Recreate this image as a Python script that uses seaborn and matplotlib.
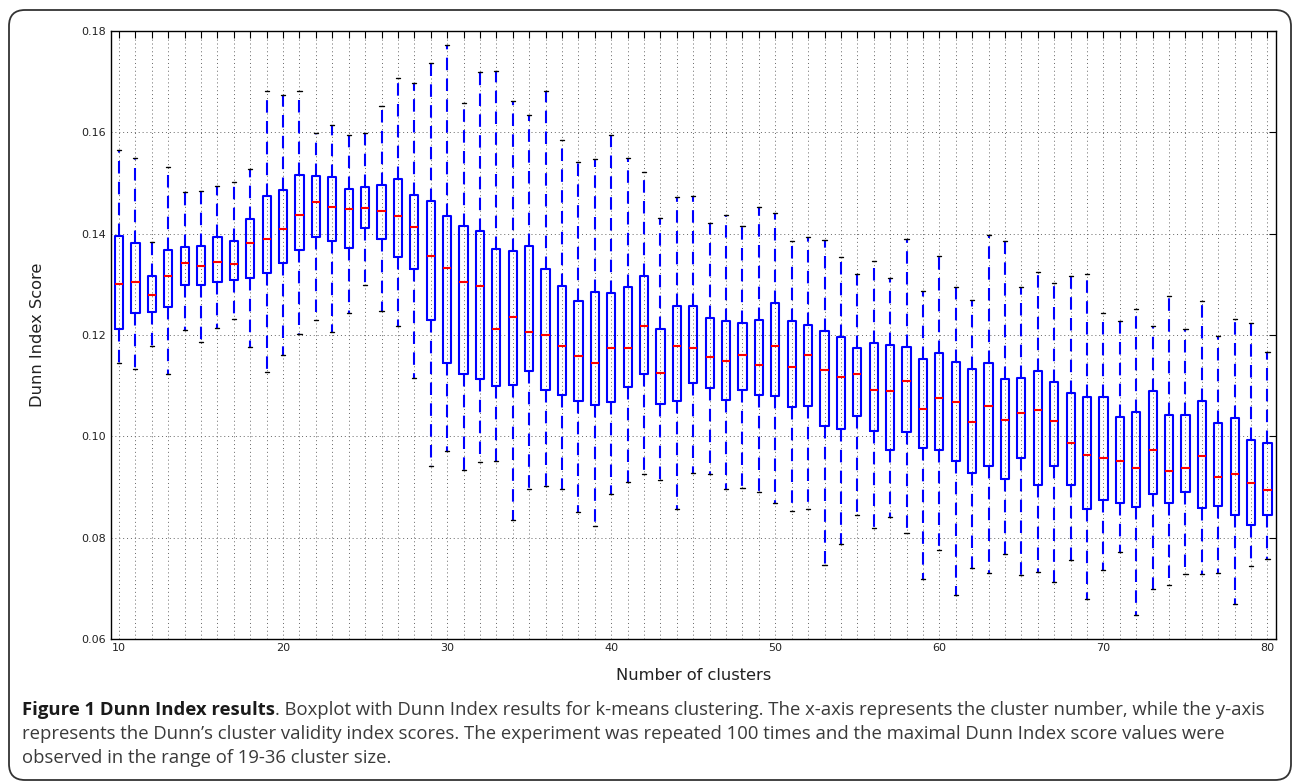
import numpy as np
import pandas as pd
import matplotlib
matplotlib.use("Agg")
import matplotlib.pyplot as plt
import matplotlib.patches as mpatches
import matplotlib.transforms as mtransforms
import seaborn as sns

# ---------------- data ----------------
clusters = list(range(10, 81))

whisker_high = [
    0.1566, 0.1549, 0.1383, 0.1531, 0.1483, 0.1485, 0.1495, 0.1501, 0.1528, 0.1681,
    0.1673, 0.1681, 0.1599, 0.1614, 0.1595, 0.1599, 0.1651, 0.1707, 0.1697, 0.1736,
    0.1772, 0.1657, 0.1719, 0.1722, 0.1662, 0.1635, 0.1681, 0.1584, 0.1542, 0.1547,
    0.1595, 0.1549, 0.1522, 0.1430, 0.1472, 0.1474, 0.1421, 0.1437, 0.1416, 0.1452,
    0.1441, 0.1386, 0.1394, 0.1388, 0.1354, 0.1321, 0.1346, 0.1313, 0.1390, 0.1286,
    0.1356, 0.1295, 0.1270, 0.1397, 0.1385, 0.1295, 0.1324, 0.1302, 0.1317, 0.1321,
    0.1243, 0.1227, 0.1251, 0.1218, 0.1277, 0.1211, 0.1267, 0.1198, 0.1232, 0.1223,
    0.1166,
]
q3 = [
    0.1396, 0.1381, 0.1317, 0.1367, 0.1373, 0.1375, 0.1393, 0.1386, 0.1428, 0.1475,
    0.1487, 0.1516, 0.1514, 0.1512, 0.1488, 0.1493, 0.1496, 0.1507, 0.1477, 0.1464,
    0.1434, 0.1416, 0.1406, 0.1369, 0.1365, 0.1375, 0.1331, 0.1296, 0.1267, 0.1285,
    0.1282, 0.1294, 0.1316, 0.1211, 0.1258, 0.1258, 0.1234, 0.1227, 0.1223, 0.1230,
    0.1263, 0.1227, 0.1219, 0.1207, 0.1197, 0.1174, 0.1185, 0.1181, 0.1177, 0.1153,
    0.1165, 0.1146, 0.1132, 0.1144, 0.1114, 0.1116, 0.1128, 0.1108, 0.1086, 0.1077,
    0.1077, 0.1038, 0.1048, 0.1090, 0.1042, 0.1042, 0.1069, 0.1027, 0.1036, 0.0992,
    0.0986,
]
median = [
    0.1301, 0.1305, 0.1279, 0.1316, 0.1343, 0.1336, 0.1344, 0.1341, 0.1381, 0.1389,
    0.1410, 0.1437, 0.1462, 0.1452, 0.1449, 0.1451, 0.1445, 0.1435, 0.1414, 0.1356,
    0.1332, 0.1305, 0.1296, 0.1211, 0.1236, 0.1206, 0.1200, 0.1178, 0.1158, 0.1144,
    0.1175, 0.1175, 0.1217, 0.1125, 0.1178, 0.1175, 0.1156, 0.1148, 0.1160, 0.1141,
    0.1178, 0.1137, 0.1160, 0.1130, 0.1117, 0.1123, 0.1092, 0.1090, 0.1110, 0.1054,
    0.1075, 0.1068, 0.1029, 0.1060, 0.1033, 0.1046, 0.1052, 0.1031, 0.0987, 0.0964,
    0.0958, 0.0951, 0.0938, 0.0973, 0.0931, 0.0937, 0.0961, 0.0919, 0.0926, 0.0907,
    0.0895,
]
q1 = [
    0.1212, 0.1244, 0.1246, 0.1255, 0.1298, 0.1298, 0.1305, 0.1308, 0.1313, 0.1323,
    0.1342, 0.1367, 0.1394, 0.1385, 0.1371, 0.1412, 0.1390, 0.1354, 0.1331, 0.1229,
    0.1145, 0.1124, 0.1113, 0.1099, 0.1102, 0.1129, 0.1091, 0.1081, 0.1069, 0.1062,
    0.1068, 0.1098, 0.1124, 0.1063, 0.1069, 0.1106, 0.1095, 0.1072, 0.1091, 0.1081,
    0.1079, 0.1058, 0.1060, 0.1021, 0.1014, 0.1040, 0.1010, 0.0974, 0.1008, 0.0976,
    0.0973, 0.0952, 0.0927, 0.0942, 0.0915, 0.0957, 0.0903, 0.0941, 0.0903, 0.0857,
    0.0875, 0.0869, 0.0861, 0.0887, 0.0868, 0.0891, 0.0859, 0.0863, 0.0845, 0.0825,
    0.0845,
]
whisker_low = [
    0.1145, 0.1133, 0.1178, 0.1124, 0.1209, 0.1187, 0.1213, 0.1232, 0.1176, 0.1127,
    0.1161, 0.1202, 0.1230, 0.1205, 0.1243, 0.1298, 0.1247, 0.1218, 0.1116, 0.0942,
    0.0971, 0.0934, 0.0950, 0.0952, 0.0834, 0.0896, 0.0901, 0.0896, 0.0850, 0.0823,
    0.0887, 0.0910, 0.0925, 0.0914, 0.0857, 0.0927, 0.0925, 0.0896, 0.0899, 0.0891,
    0.0869, 0.0852, 0.0857, 0.0746, 0.0787, 0.0845, 0.0820, 0.0841, 0.0809, 0.0718,
    0.0775, 0.0686, 0.0740, 0.0730, 0.0768, 0.0726, 0.0733, 0.0713, 0.0756, 0.0678,
    0.0736, 0.0771, 0.0648, 0.0698, 0.0707, 0.0729, 0.0729, 0.0731, 0.0670, 0.0745,
    0.0758,
]

y_ticks = [0.06, 0.08, 0.10, 0.12, 0.14, 0.16, 0.18]
x_label_ticks = [10, 20, 30, 40, 50, 60, 70, 80]

caption_bold = "Figure 1 Dunn Index results"
caption_line1 = (". Boxplot with Dunn Index results for k-means clustering. "
                 "The x-axis represents the cluster number, while the y-axis")
caption_line2 = ("represents the Dunn\u2019s cluster validity index scores. The experiment "
                 "was repeated 100 times and the maximal Dunn Index score values were")
caption_line3 = "observed in the range of 19-36 cluster size."

# five-number summary per cluster -> long-form table
rows = []
for c, lo, a, m, b, hi in zip(clusters, whisker_low, q1, median, q3, whisker_high):
    for v in (lo, a, m, b, hi):
        rows.append({"cluster": c, "score": v})
df = pd.DataFrame(rows)

# ---------------- figure ----------------
sns.set_theme(style="white")
plt.rcParams["font.family"] = ["DejaVu Sans"]

W, H = 1293, 781
fig = plt.figure(figsize=(W / 100, H / 100), dpi=100)
ax = fig.add_axes([110.8 / W, 1 - 639 / H, (1275.7 - 110.8) / W, (639 - 31) / H])

sns.boxplot(
    data=df, x="cluster", y="score", native_scale=True, ax=ax,
    whis=(0, 100), width=0.5, fill=False, color="blue", linewidth=1.5,
    boxprops={"color": "blue", "linewidth": 1.5},
    medianprops={"color": "red", "linewidth": 1.5},
    whiskerprops={"color": "blue", "linestyle": (0, (6, 4)), "linewidth": 1.5},
    capprops={"color": "black", "linewidth": 1.0},
    showfliers=False,
)

ax.set_xlim(9.5, 80.5)
ax.set_ylim(0.06, 0.18)
ax.set_xticks(clusters)
ax.set_xticklabels([str(c) if c in x_label_ticks else "" for c in clusters])
ax.set_yticks(y_ticks)
ax.set_yticklabels([f"{v:.2f}" for v in y_ticks])
ax.tick_params(direction="in", length=5, width=0.8, color="black",
               labelsize=8, top=True, right=True, labelcolor="#222222")
ax.tick_params(axis="x", pad=3)
ax.grid(True, linestyle=(0, (1, 3)), color="#666666", linewidth=0.7)
ax.set_axisbelow(True)
for s in ax.spines.values():
    s.set_color("black")
    s.set_linewidth(1.0)

ax.set_xlabel("Number of clusters", fontsize=11.7, color="#222222", labelpad=11)
ax.set_ylabel("Dunn Index Score", fontsize=11.7, color="#222222", labelpad=26)

# caption
cap_font = ["Open Sans", "DejaVu Sans"]
cap_size = 13.3
x0 = 22 / W
ys = [1 - 710 / H, 1 - 734 / H, 1 - 758 / H]
t_bold = fig.text(x0, ys[0], caption_bold, fontsize=cap_size, fontweight="bold",
                  family=cap_font, color="#1a1a1a", va="center", ha="left")
fig.canvas.draw()
bb = t_bold.get_window_extent(fig.canvas.get_renderer())
fig.text(bb.x1 / W, ys[0], caption_line1, fontsize=cap_size, family=cap_font,
         color="#3a3a3a", va="center", ha="left")
fig.text(x0, ys[1], caption_line2, fontsize=cap_size, family=cap_font,
         color="#3a3a3a", va="center", ha="left")
fig.text(x0, ys[2], caption_line3, fontsize=cap_size, family=cap_font,
         color="#3a3a3a", va="center", ha="left")

# rounded outer frame
frame = mpatches.FancyBboxPatch(
    (9, 1), 1282, H - 11,
    boxstyle="round,pad=0,rounding_size=16",
    transform=mtransforms.IdentityTransform(),
    fill=False, edgecolor="#333333", linewidth=1.3)
fig.patches.append(frame)

fig.savefig("out.png", dpi=100)
